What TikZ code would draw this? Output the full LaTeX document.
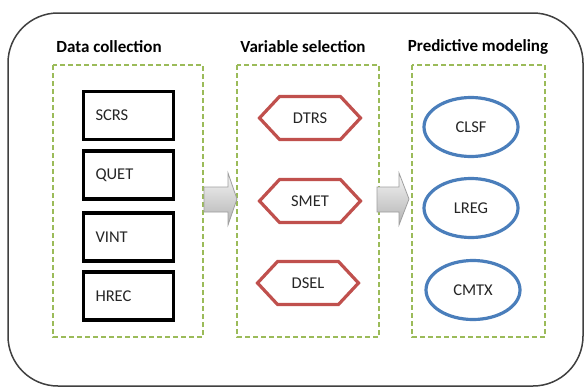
\documentclass[tikz,border=0pt]{standalone}
\usepackage{fontspec}
\setmainfont{Carlito}
\usetikzlibrary{shapes.geometric,shapes.symbols,calc}
\definecolor{dgreen}{HTML}{9BBB59}
\definecolor{dred}{HTML}{C0504D}
\definecolor{dblue}{HTML}{4A7EBB}
\definecolor{frame}{HTML}{404040}
\tikzset{
  title/.style={font=\fontsize{17}{19}\selectfont\bfseries, text=black},
  group/.style={draw=dgreen, line width=1.5pt, dash pattern=on 5pt off 3pt},
  databox/.style={draw=black, line width=3.6pt, rectangle, minimum height=48pt,
    text width=66pt, inner xsep=12pt, align=left, font=\fontsize{16.5}{18}\selectfont, text=black!85},
  selhex/.style={draw=dred, line width=3.2pt, signal, signal to=west and east,
    signal pointer angle=94, minimum width=101pt, minimum height=43pt,
    inner sep=0pt, font=\fontsize{16.5}{18}\selectfont, text=black!85},
  modell/.style={draw=dblue, line width=3.2pt, ellipse, minimum width=94pt,
    minimum height=59pt, inner sep=0pt, font=\fontsize{16.5}{18}\selectfont, text=black!85},
  blockarrow/.style={draw=gray!75, line width=0.8pt, top color=gray!8, bottom color=gray!60}
}
\begin{document}
\begin{tikzpicture}[x=1pt,y=-1pt]
\useasboundingbox (0,0) rectangle (585,388);
\fill[white] (0,0) rectangle (585,388);
% outer frame
\draw[frame, line width=1.5pt, rounded corners=50pt] (8,13) rectangle (583,386);
% titles
\node[title] (t1) at (109,47) {Data collection};
\node[title] (t2) at (303,47) {Variable selection};
\node[title] (t3) at (478,47) {Predictive modeling};
% groups
\draw[group] (53,65) rectangle (203,337);
\draw[group] (237,65) rectangle (379,337);
\draw[group] (412,65) rectangle (545,337);
% data boxes
\node[databox] (scrs) at (128.5,115.5) {SCRS};
\node[databox] (quet) at (128.5,175) {QUET};
\node[databox] (vint) at (128.5,237) {VINT};
\node[databox] (hrec) at (128.5,296) {HREC};
% hexagons
\node[selhex] (dtrs) at (310,118) {DTRS};
\node[selhex] (smet) at (310,201) {SMET};
\node[selhex] (dsel) at (308,283) {DSEL};
% ellipses
\node[modell] (clsf) at (471,127) {CLSF};
\node[modell] (lreg) at (471,208) {LREG};
\node[modell] (cmtx) at (473,290) {CMTX};
% block arrows
\path[blockarrow] (204,187) -- (228,187) -- (228,173) -- (237,199) -- (228,225) -- (228,212) -- (204,212) -- cycle;
\path[blockarrow] (377,187) -- (399,187) -- (399,173) -- (409,199) -- (399,225) -- (399,212) -- (377,212) -- cycle;
\end{tikzpicture}
\end{document}
